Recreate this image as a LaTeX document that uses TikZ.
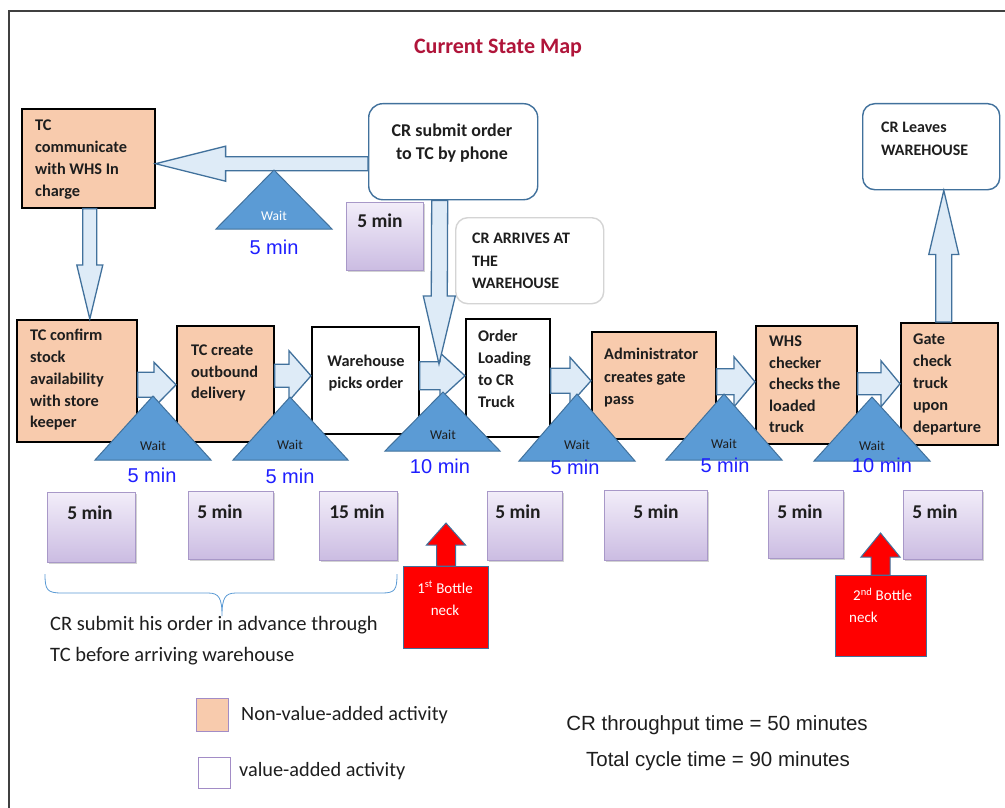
\documentclass[tikz,border=0pt]{standalone}
\usepackage{fontspec}
\setmainfont{Carlito}
\newfontfamily\arialfont{Liberation Sans}
\usetikzlibrary{calc,shadows}

\definecolor{peach}{HTML}{F8CBAD}
\definecolor{arrowfill}{HTML}{DEEBF7}
\definecolor{arrowline}{HTML}{41719C}
\definecolor{waitfill}{HTML}{5B9BD5}
\definecolor{minblue}{HTML}{1E1EFF}
\definecolor{titlered}{HTML}{B0153A}
\definecolor{lavtop}{HTML}{F2EDF9}
\definecolor{lavbot}{HTML}{CBBCE2}
\definecolor{lavline}{HTML}{A898C8}
\definecolor{legendline}{HTML}{A28CC6}
\definecolor{framegray}{HTML}{404040}
\definecolor{softgray}{HTML}{D4D4D4}
\definecolor{inkgray}{HTML}{1E1E1E}

% block arrow from #1 to #2: shaft half width #3, head half width #4, head length #5
\newcommand\barrow[6][blockarrow]{%
  \coordinate (ba-h) at ($(#3)!#6!(#2)$);
  \draw[#1] ($(#2)!#4!90:(#3)$) -- ($(ba-h)!#4!90:(#3)$) -- ($(ba-h)!#5!90:(#3)$)
    -- (#3) -- ($(ba-h)!#5!-90:(#3)$) -- ($(ba-h)!#4!-90:(#3)$)
    -- ($(#2)!#4!-90:(#3)$) -- cycle;}

\begin{document}
\begin{tikzpicture}[x=1pt,y=-1pt,
  procbox/.style={draw=black, line width=1.6pt, inner sep=0, anchor=north west},
  nva/.style={procbox, fill=peach},
  va/.style={procbox, fill=white},
  roundbox/.style={draw=arrowline, line width=1.4pt, rounded corners=14pt, fill=white, inner sep=0, anchor=north west},
  boxtext/.style={font=\fontsize{16.3}{21.8}\selectfont\bfseries, align=left, inner sep=0, anchor=north west, text=inkgray},
  timebox/.style={draw=lavline, line width=0.8pt, top color=lavtop, bottom color=lavbot, inner sep=0, anchor=north west,
    drop shadow={shadow xshift=1.5pt, shadow yshift=-2pt, opacity=0.35}},
  timetext/.style={font=\fontsize{19.5}{21}\selectfont\bfseries, inner sep=0, text=inkgray},
  blockarrow/.style={draw=arrowline, line width=1.3pt, fill=arrowfill, line join=miter},
  redarrow/.style={draw=arrowline, line width=1pt, fill=red, line join=miter},
  waittri/.style={draw=arrowline, line width=1pt, fill=waitfill, line join=miter},
  waitlabel/.style={font=\fontsize{13.5}{14}\selectfont, inner sep=0, text=inkgray},
  minlabel/.style={font=\arialfont\fontsize{20}{22}\selectfont, text=minblue, inner sep=0},
  neckbox/.style={draw=arrowline, line width=1pt, fill=red, inner sep=0, anchor=north west},
  necktext/.style={font=\fontsize{15}{22}\selectfont, text=white, inner sep=0},
  legendbox/.style={draw=legendline, line width=1.2pt, inner sep=0, anchor=north west},
  plaintext/.style={font=\fontsize{20.5}{31}\selectfont, inner sep=0, text=inkgray},
  sumtext/.style={font=\arialfont\fontsize{20.5}{24}\selectfont, inner sep=0, text=inkgray}]

\useasboundingbox (0,0) rectangle (1005,808);
\fill[white] (0,0) rectangle (1005,808);
\draw[framegray, line width=2pt] (9,830) -- (9,11) -- (1030,11);

% title
\node[font=\fontsize{22}{24}\selectfont\bfseries, text=titlered, anchor=base, inner sep=0] (title) at (498,54) {Current State Map};

% upper boxes
\node[nva, minimum width=133pt, minimum height=99pt] (tccomm) at (21,108) {};
\node[roundbox, minimum width=169pt, minimum height=96pt] (crsub) at (368,103) {};
\node[roundbox, draw=softgray, rounded corners=12pt, minimum width=148pt, minimum height=86pt] (crarr) at (455,217) {};
\node[roundbox, rounded corners=12pt, minimum width=137pt, minimum height=86pt] (crleave) at (862,103) {};

% process row
\node[nva, minimum width=120pt, minimum height=122pt] (tcconf) at (16,319) {};
\node[nva, minimum width=97pt, minimum height=116pt] (tccreate) at (176,325) {};
\node[va, minimum width=107pt, minimum height=107pt] (whpick) at (311,326) {};
\node[va, minimum width=84pt, minimum height=118pt] (loading) at (465,318) {};
\node[nva, minimum width=124pt, minimum height=107pt] (admin) at (591,331) {};
\node[nva, minimum width=101pt, minimum height=118pt] (whscheck) at (755,325) {};
\node[nva, minimum width=97pt, minimum height=122pt] (gate) at (900,322) {};

% box texts
\node[boxtext] (tccomm-t) at (35,120) {TC\\communicate\\with WHS In\\charge};
\node[boxtext, font=\fontsize{18}{23}\selectfont\bfseries, align=center, anchor=north] (crsub-t) at (452,124) {CR submit order\\to TC by phone};
\node[boxtext, font=\fontsize{16}{22.5}\selectfont\bfseries] (crarr-t) at (472,233) {CR ARRIVES AT\\THE\\WAREHOUSE};
\node[boxtext, font=\fontsize{16}{23}\selectfont\bfseries] (crleave-t) at (881,122) {CR Leaves\\WAREHOUSE};
\node[boxtext] (tcconf-t) at (30,329) {TC confirm\\stock\\availability\\with store\\keeper};
\node[boxtext, font=\fontsize{16.3}{21.5}\selectfont\bfseries] (tccreate-t) at (191,345) {TC create\\outbound\\delivery};
\node[boxtext, align=center, anchor=north] (whpick-t) at (366,355) {Warehouse\\picks order};
\node[boxtext] (loading-t) at (478,330) {Order\\Loading\\to CR\\Truck};
\node[boxtext, font=\fontsize{16.3}{22.5}\selectfont\bfseries] (admin-t) at (604,348) {Administrator\\creates gate\\pass};
\node[boxtext, font=\fontsize{16.3}{21.5}\selectfont\bfseries] (whscheck-t) at (769,336) {WHS\\checker\\checks the\\loaded\\truck};
\node[boxtext] (gate-t) at (913,334) {Gate\\check\\truck\\upon\\departure};

% time boxes
\node[timebox, minimum width=77pt, minimum height=68pt] (p0) at (346,202) {};
\node[timebox, minimum width=88pt, minimum height=70pt] (p1) at (47,492) {};
\node[timebox, minimum width=85pt, minimum height=68pt] (p2) at (188,491) {};
\node[timebox, minimum width=78pt, minimum height=69pt] (p3) at (319,491) {};
\node[timebox, minimum width=75pt, minimum height=69pt] (p4) at (487,491) {};
\node[timebox, minimum width=103pt, minimum height=70pt] (p5) at (604,490) {};
\node[timebox, minimum width=75pt, minimum height=68pt] (p6) at (768,490) {};
\node[timebox, minimum width=79pt, minimum height=69pt] (p7) at (903,490) {};
\node[timetext] (p0-t) at (380,221) {5 min};
\node[timetext] (p1-t) at (90,513) {5 min};
\node[timetext] (p2-t) at (220,512) {5 min};
\node[timetext] (p3-t) at (357,512) {15 min};
\node[timetext] (p4-t) at (518,512) {5 min};
\node[timetext] (p5-t) at (656,512) {5 min};
\node[timetext] (p6-t) at (800,512) {5 min};
\node[timetext] (p7-t) at (935,512) {5 min};

% flow arrows
\coordinate (a0s) at ([yshift=-12pt]crsub.west);
\coordinate (a0e) at (a0s -| tccomm.east);
\barrow{a0s}{a0e}{7pt}{17.5pt}{70pt}
\coordinate (adns) at ([xshift=1.5pt]tccomm.south);
\coordinate (adne) at (adns |- tcconf.north);
\barrow{adns}{adne}{7pt}{13pt}{54pt}

\coordinate (a1s) at ([yshift=-4pt]tcconf.east);
\coordinate (a1e) at (a1s -| tccreate.west);
\barrow{a1s}{a1e}{12.5pt}{22.5pt}{22pt}
\coordinate (a2s) at ([yshift=8pt]tccreate.east);
\coordinate (a2e) at (a2s -| whpick.west);
\barrow{a2s}{a2e}{11.5pt}{25pt}{22pt}
\coordinate (a3s) at ([yshift=4.5pt]whpick.east);
\coordinate (a3e) at (a3s -| loading.west);
\barrow{a3s}{a3e}{14pt}{23pt}{25pt}
\coordinate (a4s) at ([yshift=-3pt]loading.east);
\coordinate (a4e) at (a4s -| admin.west);
\barrow{a4s}{a4e}{12.5pt}{23.5pt}{21pt}
\coordinate (a5s) at ([yshift=3.5pt]admin.east);
\coordinate (a5e) at (a5s -| whscheck.west);
\barrow{a5s}{a5e}{13pt}{25pt}{21pt}
\coordinate (a6s) at ([yshift=1pt]whscheck.east);
\coordinate (a6e) at (a6s -| gate.west);
\barrow{a6s}{a6e}{11pt}{23pt}{19pt}

\coordinate (crs) at ([xshift=-13.5pt]crsub.south);
\coordinate (arrive) at (439,364);
\barrow{crs}{arrive}{8pt}{16pt}{68pt}
\coordinate (gts) at ([xshift=-5.5pt]gate.north);
\coordinate (gte) at (gts |- crleave.south);
\barrow{gts}{gte}{8pt}{15pt}{64pt}

% waiting triangles
\draw[waittri] (274,170) -- (332,229) -- (216,229) -- cycle;
\draw[waittri] (153,396) -- (211,460) -- (95,460) -- cycle;
\draw[waittri] (290,397) -- (348,460) -- (233,460) -- cycle;
\draw[waittri] (443,392) -- (500,451) -- (385,451) -- cycle;
\draw[waittri] (577,394) -- (635,461) -- (519,461) -- cycle;
\draw[waittri] (724,394) -- (782,460) -- (666,460) -- cycle;
\draw[waittri] (872,397) -- (930,461) -- (814,461) -- cycle;
\node[waitlabel, text=white] (w0) at (274,216) {Wait};
\node[waitlabel] (w1) at (153,446) {Wait};
\node[waitlabel] (w2) at (290,445) {Wait};
\node[waitlabel] (w3) at (443,435) {Wait};
\node[waitlabel] (w4) at (577,445) {Wait};
\node[waitlabel] (w5) at (724,444) {Wait};
\node[waitlabel] (w6) at (872,446) {Wait};
\node[minlabel] (m0) at (274,247) {5 min};
\node[minlabel] (m1) at (152,475) {5 min};
\node[minlabel] (m2) at (290,476) {5 min};
\node[minlabel] (m3) at (440,466) {10 min};
\node[minlabel] (m4) at (575,467) {5 min};
\node[minlabel] (m5) at (725,465) {5 min};
\node[minlabel] (m6) at (882,465) {10 min};

% bottlenecks
\node[neckbox, minimum width=85pt, minimum height=82pt] (neck1) at (403,566) {};
\coordinate (n1s) at (neck1.north);
\coordinate (n1e) at ([yshift=43pt]neck1.north);
\barrow[redarrow]{n1s}{n1e}{9.5pt}{19.5pt}{22pt}
\node[necktext, align=center, anchor=north] (neck1-t) at (445,581) {1\textsuperscript{st} Bottle\\neck};
\node[neckbox, minimum width=91pt, minimum height=81pt] (neck2) at (835,575) {};
\coordinate (n2s) at ([xshift=-0.5pt]neck2.north);
\coordinate (n2e) at ([xshift=-0.5pt,yshift=42pt]neck2.north);
\barrow[redarrow]{n2s}{n2e}{9.5pt}{19.5pt}{24pt}
\node[necktext, align=left, anchor=north west] (neck2-t) at (849,588) {\hspace{4pt}2\textsuperscript{nd} Bottle\\neck};

% brace and note
\draw[waitfill, line width=0.8pt] (45,574) .. controls (45,590) and (47,593) .. (62,593) -- (208,593)
  .. controls (219,593) and (222,598) .. (222,616) .. controls (222,598) and (225,593) .. (236,593)
  -- (382,593) .. controls (395,593) and (397,590) .. (397,574);
\node[plaintext, align=left, anchor=north west] (note) at (50,616) {CR submit his order in advance through\\TC before arriving warehouse};

% legend
\node[legendbox, fill=peach, minimum width=32pt, minimum height=33pt] (leg1) at (196,698) {};
\node[legendbox, fill=white, minimum width=32pt, minimum height=31pt] (leg2) at (198,757) {};
\node[plaintext, font=\fontsize{20.3}{22}\selectfont, anchor=base west] (leg1-t) at (241,720) {Non-value-added activity};
\node[plaintext, font=\fontsize{20.3}{22}\selectfont, anchor=base west] (leg2-t) at (239,776) {value-added activity};

% totals
\node[sumtext, anchor=base] (sum1) at (717,730) {CR throughput time = 50 minutes};
\node[sumtext, anchor=base] (sum2) at (718,766) {Total cycle time = 90 minutes};
\end{tikzpicture}
\end{document}
